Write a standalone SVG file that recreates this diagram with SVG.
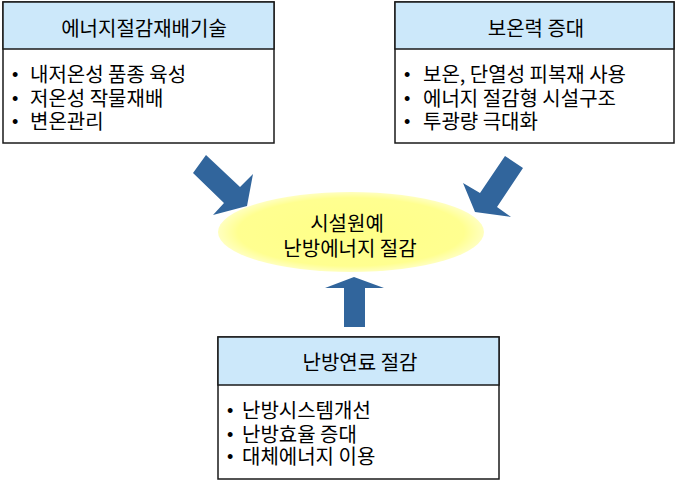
<svg xmlns="http://www.w3.org/2000/svg" width="677" height="482" viewBox="0 0 677 482">
<style>
.box{fill:#fff;stroke:#1a1a1a;stroke-width:1.5}
.hdr{fill:#CCE8FA;stroke:#1a1a1a;stroke-width:1.5}
.t{font-family:"Noto Sans CJK KR","Noto Sans",sans-serif;font-size:20px;fill:#000}
.h{text-anchor:middle}
.b{font-family:"Liberation Sans",sans-serif;font-size:18px}
.arrow{fill:#31659C}
</style>
<defs>
<radialGradient id="eg" cx="50%" cy="50%" r="50%">
<stop offset="0" stop-color="#FFFF88"/>
<stop offset="0.85" stop-color="#FFFF90"/>
<stop offset="1" stop-color="#FFFFC0"/>
</radialGradient>
</defs>
<g id="connectors">
<polygon class="arrow" points="206,155 240,187 253,174 247,206 213,215 224,203 193,173"/>
<polygon class="arrow" points="505,156 480,193 463,183 475,212 511,217 497,207 523,168"/>
<polygon class="arrow" points="354,277 384,288 365,288 365,327 344,327 344,288 325,288"/>
</g>
<g id="node-center">
<ellipse cx="351" cy="232" rx="133" ry="40" fill="url(#eg)"/>
<text class="t h" x="347" y="231">시설원예</text>
<text class="t h" x="350" y="256">난방에너지 절감</text>
</g>
<g id="node-left">
<rect class="box" x="3" y="2" width="271" height="141"/>
<rect class="hdr" x="3" y="2" width="271" height="47"/>
<text class="t h" x="144" y="36">에너지절감재배기술</text>
<text class="t"><tspan class="b" x="12" y="81">•</tspan><tspan x="30" y="82">내저온성 품종 육성</tspan></text>
<text class="t"><tspan class="b" x="12" y="105">•</tspan><tspan x="30" y="106">저온성 작물재배</tspan></text>
<text class="t"><tspan class="b" x="12" y="128">•</tspan><tspan x="30" y="129">변온관리</tspan></text>
</g>
<g id="node-right">
<rect class="box" x="395" y="2" width="279" height="141"/>
<rect class="hdr" x="395" y="2" width="279" height="47"/>
<text class="t h" x="536" y="36">보온력 증대</text>
<text class="t"><tspan class="b" x="404" y="81">•</tspan><tspan x="423" y="82">보온, 단열성 피복재 사용</tspan></text>
<text class="t"><tspan class="b" x="404" y="105">•</tspan><tspan x="423" y="106">에너지 절감형 시설구조</tspan></text>
<text class="t"><tspan class="b" x="404" y="128">•</tspan><tspan x="423" y="129">투광량 극대화</tspan></text>
</g>
<g id="node-bottom">
<rect class="box" x="218" y="337" width="281" height="142"/>
<rect class="hdr" x="218" y="337" width="281" height="48"/>
<text class="t h" x="360" y="370">난방연료 절감</text>
<text class="t"><tspan class="b" x="227" y="417">•</tspan><tspan x="242" y="418">난방시스템개선</tspan></text>
<text class="t"><tspan class="b" x="227" y="441">•</tspan><tspan x="242" y="442">난방효율 증대</tspan></text>
<text class="t"><tspan class="b" x="227" y="463">•</tspan><tspan x="242" y="464">대체에너지 이용</tspan></text>
</g>
</svg>
